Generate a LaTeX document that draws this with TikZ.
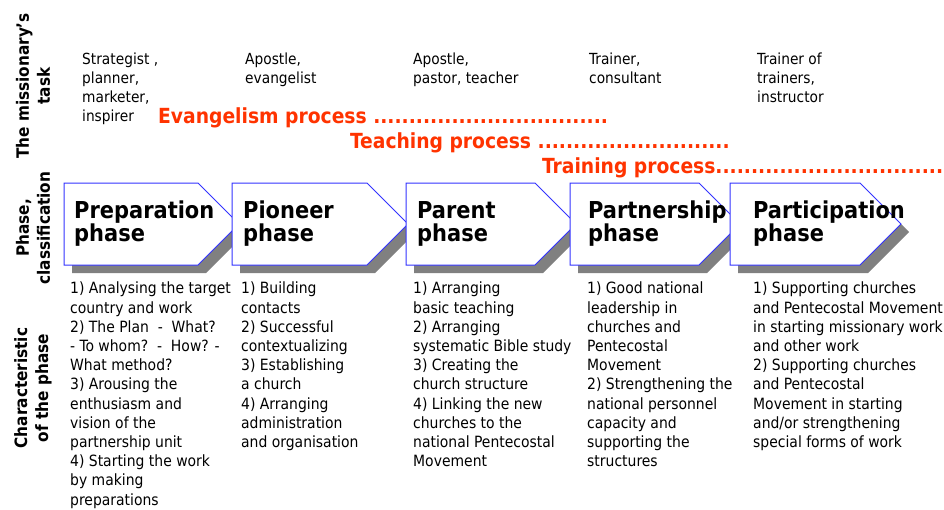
\documentclass[tikz,border=0pt]{standalone}
\usepackage{fontspec}
\setmainfont{DejaVu Sans Condensed}
\definecolor{procred}{HTML}{FF3300}
\definecolor{edgeblue}{HTML}{3333FF}
\definecolor{shadowgray}{HTML}{808080}

\tikzset{
  sidelabel/.style={rotate=90, align=center, inner sep=0pt, font=\bfseries\fontsize{17}{21}\selectfont},
  task/.style={anchor=north west, inner sep=0pt, align=left, font=\fontsize{15.3}{19}\selectfont},
  proc/.style={anchor=west, inner sep=0pt, text=procred, font=\bfseries\fontsize{20.8}{24}\selectfont},
  phase/.style={anchor=west, inner sep=0pt, align=left, font=\bfseries\fontsize{23.3}{23}\selectfont},
  trait/.style={anchor=north west, inner sep=0pt, align=left, font=\fontsize{15.5}{19.2}\selectfont},
}

% arrow box: #1 left edge, #2 end of the flat top edge
\newcommand{\chevron}[2]{%
  \fill[shadowgray] (#1+8,191) -- (#2+8,191) -- (#2+49,232) -- (#2+8,273) -- (#1+8,273) -- cycle;
  \draw[edgeblue, line width=1pt, fill=white] (#1,183) -- (#2,183) -- (#2+41,224) -- (#2,265) -- (#1,265) -- cycle;}

\begin{document}
\begin{tikzpicture}[x=1pt,y=-1pt]
        \useasboundingbox (0,0) rectangle (944,509);
        % row titles
        \node [sidelabel] (rtask) at (33,86) {The missionary’s\\task};
        \node [sidelabel] (rphase) at (33,228) {Phase,\\classification};
        \node [sidelabel] (rchar) at (33,388) {Characteristic\\of the phase};
        % the missionary's task
        \node [task] (t1) at (82,53) {Strategist ,\\planner,\\marketer,\\inspirer};
        \node [task] (t2) at (245,53) {Apostle,\\evangelist};
        \node [task] (t3) at (413,53) {Apostle,\\pastor, teacher};
        \node [task] (t4) at (589,53) {Trainer,\\consultant};
        \node [task] (t5) at (757,53) {Trainer of\\trainers,\\instructor};
        % processes
        \node [proc] (evang) at (158,118) {Evangelism process .................................};
        \node [proc] (teach) at (350,143) {Teaching process ...........................};
        \node [proc] (train) at (542,168) {Training process................................};
        % phases
        \chevron{64}{198}
        \chevron{232}{367}
        \chevron{406}{535}
        \chevron{570}{699}
        \chevron{730}{860}
        \node [phase] (prep) at (74,224) {Preparation\\phase};
        \node [phase] (pion) at (243,224) {Pioneer\\phase};
        \node [phase] (pare) at (417,224) {Parent\\phase};
        \node [phase] (part) at (588,224) {Partnership\\phase};
        \node [phase] (parti) at (753,224) {Participation\\phase};
        % characteristics
        \node [trait] (c1) at (70,282) {1) Analysing the target\\country and work\\2) The Plan~~-~~What?\\- To whom?~~-~~How? -\\What method?\\3) Arousing the\\enthusiasm and\\vision of the\\partnership unit\\4) Starting the work\\by making\\preparations};
        \node [trait] (c2) at (241,282) {1) Building\\contacts\\2) Successful\\contextualizing\\3) Establishing\\a church\\4) Arranging\\administration\\and organisation};
        \node [trait] (c3) at (413,282) {1) Arranging\\basic teaching\\2) Arranging\\systematic Bible study\\3) Creating the\\church structure\\4) Linking the new\\churches to the\\national Pentecostal\\Movement};
        \node [trait] (c4) at (587,282) {1) Good national\\leadership in\\churches and\\Pentecostal\\Movement\\2) Strengthening the\\national personnel\\capacity and\\supporting the\\structures};
        \node [trait] (c5) at (753,282) {1) Supporting churches\\and Pentecostal Movement\\in starting missionary work\\and other work\\2) Supporting churches\\and Pentecostal\\Movement in starting\\and/or strengthening\\special forms of work};
      \end{tikzpicture}
\end{document}
